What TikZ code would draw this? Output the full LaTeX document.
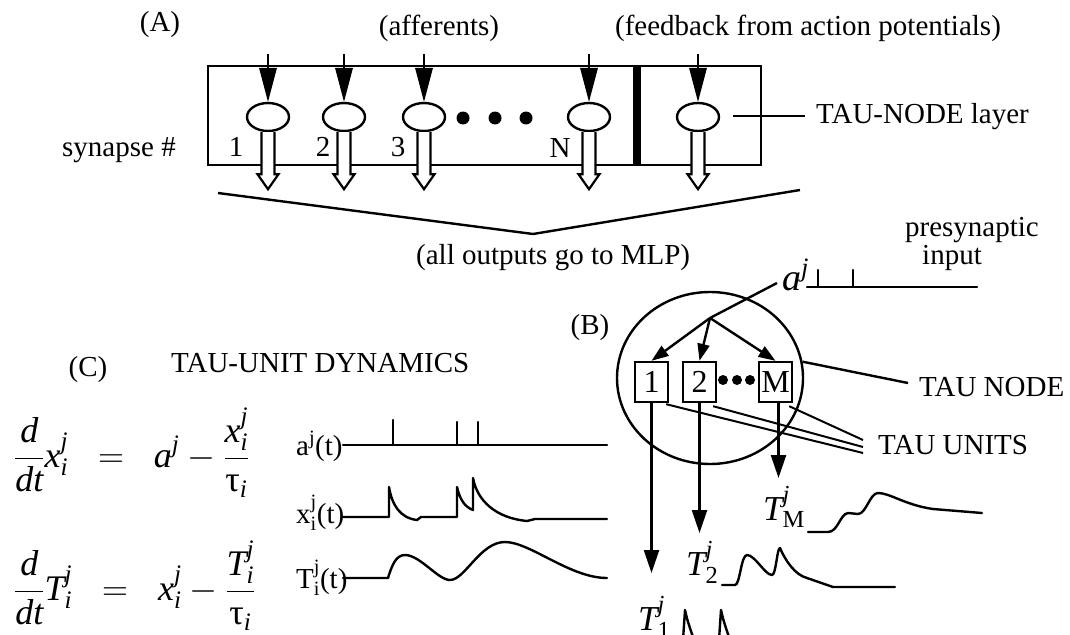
\RequirePackage{fix-cm}
\documentclass[tikz,border=0pt]{standalone}
\usepackage{fontspec}
\setmainfont{Liberation Serif}
\usepackage{amsmath}
\usetikzlibrary{shapes.geometric,arrows.meta,calc}
\newcommand\mi[1]{\textit{#1}}
\newcommand\tu{\text{τ}}
\begin{document}
\begin{tikzpicture}[x=1pt,y=-1pt,
  every path/.style={line width=2.4pt,line join=miter},
  txt/.style={font=\fontsize{29}{29}\selectfont,inner sep=0pt},
  eqn/.style={font=\fontsize{36}{36}\selectfont,inner sep=0pt},
  tlab/.style={font=\fontsize{35}{35}\selectfont,inner sep=0pt},
  syn/.style={draw,ellipse,minimum width=42pt,minimum height=28pt,inner sep=0pt,fill=white,line width=2.4pt},
  hollow/.style={fill=white,line width=2.2pt},
  unitbox/.style={draw,fill=white,minimum width=33pt,minimum height=40pt,inner sep=0pt,font=\fontsize{32}{32}\selectfont,line width=2.4pt},
  barr/.style={-{Triangle[length=17pt,width=12pt]}},
  varr/.style={-{Triangle[length=23pt,width=15pt]}},
  wave/.style={line width=2.4pt,line join=round,line cap=round}]
\useasboundingbox (0,0) rectangle (1070,634);
% ---------------- Panel A ----------------
\node[txt] (labA) at (160,25) {(A)};
\node[txt] (affl) at (439,28) {(afferents)};
\node[txt] (fbl) at (808,28) {(feedback from action potentials)};
\node[txt] (synl) at (119,150) {synapse \#};
\node[draw,line width=2.4pt,anchor=north west,minimum width=553pt,minimum height=99pt,inner sep=0pt] (boxA) at (207,65) {};
\draw[line width=8pt] (637,65) -- (637,164);
\node[syn] (e1) at (268,117) {};
\node[syn] (e2) at (344,117) {};
\node[syn] (e3) at (424,117) {};
\node[syn] (e4) at (589,117) {};
\node[syn] (e5) at (698,117) {};
\node[txt] (n1) at (236,147) {1};
\node[txt] (n2) at (323,147) {2};
\node[txt] (n3) at (398,147) {3};
\node[txt] (nN) at (560,148) {N};
\foreach \xx in {463,495,526} \fill (\xx,118) circle (6.5pt);
\foreach \n in {e1,e2,e3,e4,e5}{
  \draw ($(\n.north)+(0,-48)$) -- ($(\n.north)+(0,-20)$);
  \fill ($(\n.north)+(-9,-34)$) -- ($(\n.north)+(9,-34)$) -- (\n.north) -- cycle;
  \draw[hollow] ($(\n.south)+(-6.5,0)$) -- ++(0,42) -- ++(-4,0) -- ++(10.5,15) -- ++(10.5,-15) -- ++(-4,0) -- ++(0,-42);
}
\node[txt,anchor=west] (layl) at (815,117) {TAU-NODE layer};
\coordinate (layst) at (733,116);
\draw (layst) -- ($(layl.west)+(-10,-1)$);
\coordinate (mlpL) at (218,193);
\coordinate (mlpV) at (533,234);
\coordinate (mlpR) at (800,190);
\draw (mlpL) -- (mlpV) -- (mlpR);
\node[txt,anchor=west] (mlpl) at (415,258) {(all outputs go to MLP)};
% ---------------- Panel B ----------------
\node[txt] (labB) at (590,328) {(B)};
\node[txt] (pre1) at (972,230) {presynaptic};
\node[txt] (pre2) at (952,258) {input};
\node[font=\fontsize{38}{38}\selectfont,inner sep=0pt,anchor=base west] (aj) at (781,290) {$\mi{a}^{\mi{j}}$};
\draw[wave] (807,287) -- (977,287) (818,287) -- (818,270) (853,287) -- (853,270);
\node[draw,ellipse,minimum width=186pt,minimum height=172pt,inner sep=0pt,line width=2.4pt] (tn) at (710,378) {};
\coordinate (ajs) at (777,283);
\coordinate (br) at (710,318);
\node[unitbox] (b1) at (651.5,382) {1};
\node[unitbox] (b2) at (699.5,382) {2};
\node[unitbox] (bM) at (775.5,382) {M};
\foreach \xx in {723,737,750} \fill (\xx,380) circle (5pt);
\draw (ajs) -- (br);
\draw[barr] (br) -- (b1.north);
\draw[barr] (br) -- (b2.north);
\draw[barr] (br) -- (bM.north);
\node[txt,anchor=west] (tnl) at (918,387) {TAU NODE};
\draw (tn.10) -- ($(tnl.west)+(-10,-4)$);
\node[txt,anchor=west] (tul) at (877,445) {TAU UNITS};
\coordinate (tu1) at (863,453);
\coordinate (tu2) at (863,447);
\coordinate (tu3) at (863,440);
\draw[line width=2pt] ($(b1.south east)+(-3,1)$) -- (tu1);
\draw[line width=2pt] ($(b2.south east)+(-4,3)$) -- (tu2);
\draw[line width=2pt] ($(bM.south east)+(-4,3)$) -- (tu3);
\coordinate (t1tip) at (651.5,573);
\coordinate (t2tip) at (699.5,533);
\coordinate (tMtip) at (778.5,478);
\draw[varr] (b1.south) -- (t1tip);
\draw[varr] (b2.south) -- (t2tip);
\draw[varr] ($(bM.south)+(3,0)$) -- (tMtip);
\node[tlab,anchor=base west] (TM) at (762,520) {$\mi{T}^{\mi{j}}_{\text{M}}$};
\node[tlab,anchor=base west] (T2) at (685,575) {$\mi{T}^{\mi{j}}_{\text{2}}$};
\node[tlab,anchor=base west] (T1) at (637,630) {$\mi{T}^{\mi{j}}_{\text{1}}$};
\draw[wave] (808,532) -- (828,532) .. controls (838,532) and (840,514) .. (848,513) -- (858,514) .. controls (866,514) and (870,493) .. (878,493) .. controls (890,493) and (905,505) .. (933,509) -- (982,513);
\draw[wave] (722,585) -- (735,585) .. controls (740,585) and (741,555) .. (747,555) .. controls (755,555) and (765,575) .. (772,575) .. controls (776,575) and (777,548) .. (780,548) .. controls (785,560) and (795,575) .. (807,578) -- (833,587) -- (895,587);
\draw[wave] (683,640) -- (685,610) .. controls (687,620) and (690,628) .. (694,640);
\draw[wave] (719,640) -- (721,610) .. controls (723,620) and (726,628) .. (730,640);
% ---------------- Panel C ----------------
\node[txt] (labC) at (88,370) {(C)};
\node[txt,anchor=west] (dyn) at (170,363) {TAU-UNIT DYNAMICS};
\node[eqn,anchor=base west] (eq1) at (13,467) {$\displaystyle \frac{\mi{d}}{\mi{dt}}\mi{x}^{\mi{j}}_{\mi{i}}\;\;=\;\;\mi{a}^{\mi{j}}-\frac{\mi{x}^{\mi{j}}_{\mi{i}}}{\tu_{\mi{i}}}$};
\node[eqn,anchor=base west] (eq2) at (13,600) {$\displaystyle \frac{\mi{d}}{\mi{dt}}\mi{T}^{\mi{j}}_{\mi{i}}\;\;=\;\;\mi{x}^{\mi{j}}_{\mi{i}}-\frac{\mi{T}^{\mi{j}}_{\mi{i}}}{\tu_{\mi{i}}}$};
\node[txt,anchor=base west] (la) at (295,455) {a\textsuperscript{j}(t)};
\node[txt,anchor=base west] (lx) at (295,523) {$\text{x}^{\text{j}}_{\text{i}}$(t)};
\node[txt,anchor=base west] (lT) at (295,588) {$\text{T}^{\text{j}}_{\text{i}}$(t)};
\draw[wave] (343,445) -- (607,445) (393,445) -- (393,420) (457,445) -- (457,422) (478,445) -- (478,422);
\draw[wave] (343,517) -- (389,517) -- (389,487) .. controls (392,505) and (400,518) .. (417,520) -- (421,517) -- (457,517) -- (457,487) .. controls (460,500) and (465,507) .. (473,510) -- (473,478) .. controls (477,500) and (495,518) .. (527,521) -- (535,519) -- (607,519);
\draw[wave] (343,578) -- (388,578) .. controls (392,565) and (396,555) .. (405,555) .. controls (420,555) and (438,580) .. (450,580) .. controls (465,580) and (480,542) .. (505,542) .. controls (530,542) and (570,578) .. (607,578);
\end{tikzpicture}
\end{document}
